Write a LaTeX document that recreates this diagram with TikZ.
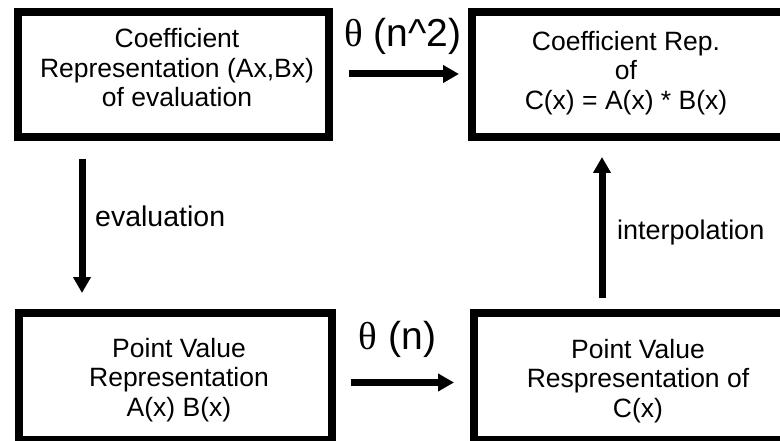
\documentclass[tikz,border=0pt]{standalone}
\usepackage{fontspec}
\setmainfont{Liberation Sans}
\newfontfamily\thetafont{Liberation Serif}
\usetikzlibrary{arrows.meta}
\begin{document}
\begin{tikzpicture}[x=1pt,y=-1pt,
  box/.style={draw=black, line width=8pt, inner sep=0pt, line join=miter},
  boxtext/.style={align=center, inner sep=0pt, font=\fontsize{26.5}{29.5}\selectfont},
  lab/.style={inner sep=0pt, font=\fontsize{27}{30}\selectfont},
  biglab/.style={inner sep=0pt, font=\fontsize{39}{42}\selectfont},
  arr/.style={line width=7pt, -{Triangle[length=16pt,width=17pt]}}]
\useasboundingbox (0,0) rectangle (780,441);
\fill[white] (0,0) rectangle (780,441);
% boxes
\node[box, minimum width=311.5pt, minimum height=125pt] (b1) at (173.25,75) {};
\node[box, minimum width=318pt, minimum height=125pt] (b2) at (631,75) {};
\node[box, minimum width=312.5pt, minimum height=127pt] (b3) at (175.25,376) {};
\node[box, minimum width=316pt, minimum height=127pt] (b4) at (632,376) {};
% box texts
\node[boxtext] (t1) at (177,68) {Coefficient\\Representation (Ax,Bx)\\of evaluation};
\node[boxtext] (t2) at (626,73) {Coefficient Rep.\\of\\C(x) = A(x) * B(x)};
\node[boxtext] (t3) at (179,380) {Point Value\\Representation\\A(x) B(x)};
\node[boxtext] (t4) at (638,381) {Point Value\\Respresentation of\\C(x)};
% helper coordinates
\coordinate (ytop) at (0,74);
\coordinate (ybot) at (0,382.5);
\coordinate (xl) at (82,0);
\coordinate (xr) at (602,0);
% connectors
\draw[arr, shorten <=16pt, shorten >=9pt] (b1.east |- ytop) -- (b2.west |- ytop);
\draw[arr, shorten <=15.5pt, shorten >=16pt] (b3.east |- ybot) -- (b4.west |- ybot);
\draw[arr, shorten <=17.5pt, shorten >=15.5pt] (b1.south -| xl) -- (b3.north -| xl);
\draw[arr, shorten <=10.5pt, shorten >=15.5pt] (b4.north -| xr) -- (b2.south -| xr);
% labels
\node[biglab, anchor=base] (l1) at (403,47) {{\thetafont θ} (n\textasciicircum 2)};
\node[biglab, anchor=base] (l2) at (397.5,349) {{\thetafont θ} (n)};
\node[lab, anchor=base west, font=\fontsize{28.5}{30}\selectfont] (l3) at (95,227) {evaluation};
\node[lab, anchor=base west] (l4) at (617,240) {interpolation};
\end{tikzpicture}
\end{document}
